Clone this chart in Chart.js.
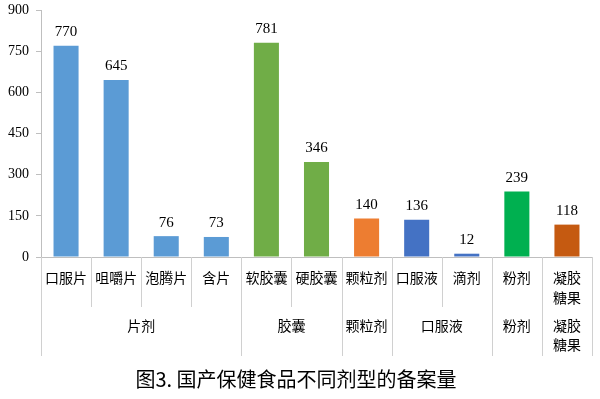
<!DOCTYPE html>
<html>
<head>
<meta charset="utf-8">
<script src="https://cdn.jsdelivr.net/npm/chart.js@4.4.0/dist/chart.umd.min.js"></script>
<style>
  html, body { margin: 0; padding: 0; background: #fff; }
  #box { width: 600px; height: 399px; position: relative; }
</style>
</head>
<body>
<div id="box"><canvas id="grafico"></canvas></div>
<script>
// datos
const categorias = ["口服片", "咀嚼片", "泡腾片", "含片", "软胶囊", "硬胶囊", "颗粒剂", "口服液", "滴剂", "粉剂", ["凝胶", "糖果"]];
const valores = [770, 645, 76, 73, 781, 346, 140, 136, 12, 239, 118];
const colores = ["#5b9bd5", "#5b9bd5", "#5b9bd5", "#5b9bd5", "#70ad47", "#70ad47", "#ed7d31", "#4472c4", "#4472c4", "#00b050", "#c55a11"];
const grupos = [["片剂"], ["胶囊"], ["颗粒剂"], ["口服液"], ["粉剂"], ["凝胶", "糖果"]];
const gruposInicio = [0, 4, 6, 7, 9, 10];
const gruposFin = [3, 5, 6, 8, 9, 10];
const ticksY = [0, 150, 300, 450, 600, 750, 900];

const serif = "'Liberation Serif', 'Times New Roman', serif";
const cjk = "'Noto Sans CJK SC', 'Noto Sans', sans-serif";
const gris = "#bfbfbf";

// etiquetas de valor y ejes agrupados
const extras = {
  id: "extras",
  afterDatasetsDraw(chart) {
    const ctx = chart.ctx;
    const meta = chart.getDatasetMeta(0);
    ctx.save();
    ctx.font = "15px " + serif;
    ctx.fillStyle = "#000";
    ctx.textAlign = "center";
    ctx.textBaseline = "bottom";
    meta.data.forEach(function(bar, i) {
      ctx.fillText(String(valores[i]), bar.x, bar.y - 6);
    });
    ctx.restore();
  },
  afterDraw(chart) {
    const ctx = chart.ctx;
    const x = chart.scales.x;
    const fondo = chart.chartArea.bottom;
    const paso = x.getPixelForValue(1) - x.getPixelForValue(0);
    ctx.save();
    ctx.strokeStyle = "#d0d0d0";
    ctx.lineWidth = 1;
    // separadores de subcategorias
    for (let i = 1; i < categorias.length; i++) {
      const px = Math.round(x.getPixelForValue(i) - paso / 2) + 0.5;
      const esGrupo = gruposInicio.indexOf(i) >= 0;
      ctx.beginPath();
      ctx.moveTo(px, fondo);
      ctx.lineTo(px, esGrupo ? fondo + 99 : fondo + 50);
      ctx.stroke();
    }
    [x.left, x.right].forEach(function(p) {
      const px = Math.round(p) + 0.5;
      ctx.beginPath();
      ctx.moveTo(px, fondo);
      ctx.lineTo(px, fondo + 99);
      ctx.stroke();
    });
    // nombres de grupo
    ctx.font = "14px " + cjk;
    ctx.fillStyle = "#000";
    ctx.textAlign = "center";
    ctx.textBaseline = "middle";
    grupos.forEach(function(g, k) {
      const cx = (x.getPixelForValue(gruposInicio[k]) + x.getPixelForValue(gruposFin[k])) / 2;
      g.forEach(function(linea, j) {
        ctx.fillText(linea, cx, fondo + 69 + j * 19);
      });
    });
    ctx.restore();
  }
};

new Chart(document.getElementById("grafico"), {
  type: "bar",
  data: {
    labels: categorias,
    datasets: [{
      data: valores,
      backgroundColor: colores,
      barPercentage: 0.5,
      categoryPercentage: 1.0
    }]
  },
  options: {
    responsive: true,
    maintainAspectRatio: false,
    animation: false,
    layout: { padding: { top: 10, left: 0, right: 8, bottom: 4 } },
    plugins: {
      legend: { display: false },
      tooltip: { enabled: false },
      title: {
        display: true,
        position: "bottom",
        text: "图3. 国产保健食品不同剂型的备案量",
        color: "#000",
        font: { family: cjk, size: 20, weight: "normal" },
        padding: { top: 2, bottom: 4 }
      }
    },
    scales: {
      x: {
        grid: { display: false, drawTicks: false },
        border: { display: true, color: gris },
        ticks: {
          color: "#000",
          font: { family: cjk, size: 14, lineHeight: 1.4 },
          padding: 11,
          maxRotation: 0,
          autoSkip: false
        },
        afterFit: function(s) { s.height = 108; }
      },
      y: {
        min: 0,
        max: 900,
        afterBuildTicks: function(s) { s.ticks = ticksY.map(function(v) { return { value: v }; }); },
        grid: { drawOnChartArea: false, tickLength: 5, color: gris },
        border: { color: gris },
        ticks: {
          color: "#000",
          font: { family: serif, size: 14 },
          padding: 7
        },
        afterFit: function(s) {
          s.width = 41;
          s.paddingTop = 0;
          s.paddingBottom = 0;
        }
      }
    }
  },
  plugins: [extras]
});
</script>
</body>
</html>
